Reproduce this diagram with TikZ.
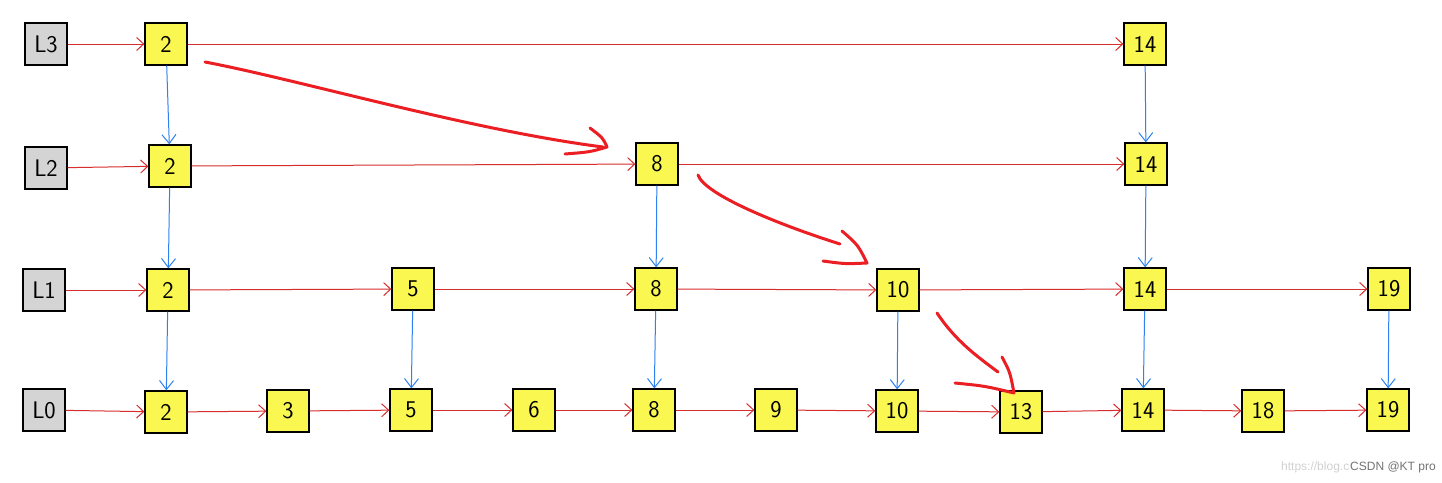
\documentclass[tikz,border=0pt]{standalone}
\usetikzlibrary{arrows.meta}
\usepackage{fontspec}
\newfontfamily\wmfont{Liberation Sans}
\definecolor{hlyellow}{RGB}{250,248,80}
\definecolor{hgray}{RGB}{212,212,212}
\definecolor{redline}{RGB}{215,45,45}
\definecolor{blueline}{RGB}{45,130,240}
\definecolor{tracered}{RGB}{235,30,35}
\begin{document}
\begin{tikzpicture}[x=1pt,y=-1pt,
  cell/.style={draw=black, line width=1.3pt, fill=hlyellow, minimum size=42pt, inner sep=0pt,
    font=\sffamily\fontsize{24}{24}\selectfont},
  head/.style={cell, fill=hgray},
  nx/.style={draw=redline, line width=1pt, -{Straight Barb[length=7pt,width=13pt]}},
  dn/.style={draw=blueline, line width=1pt, -{Straight Barb[length=9pt,width=14pt]}},
  trace/.style={draw=tracered, line width=3pt, line cap=round, line join=round},
  wm/.style={anchor=west, inner sep=0pt, font=\wmfont\fontsize{12}{12}\selectfont}]
\useasboundingbox (0,0) rectangle (1442,482);
\fill[white] (0,0) rectangle (1442,482);

% headers
\node[head] (L3) at (46,44) {L3};
\node[head] (L2) at (46,168) {L2};
\node[head] (L1) at (44,290) {L1};
\node[head] (L0) at (44,410) {L0};

% level 3
\node[cell] (a2) at (166,44) {2};
\node[cell] (a14) at (1145,44) {14};
% level 2
\node[cell] (b2) at (170,166) {2};
\node[cell] (b8) at (657,164) {8};
\node[cell] (b14) at (1146,164) {14};
% level 1
\node[cell] (c2) at (168,290) {2};
\node[cell] (c5) at (413,289) {5};
\node[cell] (c8) at (656,289) {8};
\node[cell] (c10) at (898,290) {10};
\node[cell] (c14) at (1145,289) {14};
\node[cell] (c19) at (1389,289) {19};
% level 0
\node[cell] (d2) at (166,412) {2};
\node[cell] (d3) at (288,411) {3};
\node[cell] (d5) at (411,410) {5};
\node[cell] (d6) at (534,410) {6};
\node[cell] (d8) at (654,410) {8};
\node[cell] (d9) at (776,410) {9};
\node[cell] (d10) at (897,411) {10};
\node[cell] (d13) at (1021,412) {13};
\node[cell] (d14) at (1143,410) {14};
\node[cell] (d18) at (1263,411) {18};
\node[cell] (d19) at (1388,410) {19};

% horizontal links
\draw[nx] (L3) -- (a2);
\draw[nx] (a2) -- (a14);
\draw[nx] (L2) -- (b2);
\draw[nx] (b2) -- (b8);
\draw[nx] (b8) -- (b14);
\draw[nx] (L1) -- (c2);
\draw[nx] (c2) -- (c5);
\draw[nx] (c5) -- (c8);
\draw[nx] (c8) -- (c10);
\draw[nx] (c10) -- (c14);
\draw[nx] (c14) -- (c19);
\draw[nx] (L0) -- (d2);
\draw[nx] (d2) -- (d3);
\draw[nx] (d3) -- (d5);
\draw[nx] (d5) -- (d6);
\draw[nx] (d6) -- (d8);
\draw[nx] (d8) -- (d9);
\draw[nx] (d9) -- (d10);
\draw[nx] (d10) -- (d13);
\draw[nx] (d13) -- (d14);
\draw[nx] (d14) -- (d18);
\draw[nx] (d18) -- (d19);

% vertical links
\draw[dn] (a2) -- (b2);
\draw[dn] (b2) -- (c2);
\draw[dn] (c2) -- (d2);
\draw[dn] (a14) -- (b14);
\draw[dn] (b14) -- (c14);
\draw[dn] (c14) -- (d14);
\draw[dn] (b8) -- (c8);
\draw[dn] (c8) -- (d8);
\draw[dn] (c5) -- (d5);
\draw[dn] (c10) -- (d10);
\draw[dn] (c19) -- (d19);

% search trace
\coordinate (s1a) at (205,62);
\coordinate (s1b) at (603,147);
\draw[trace] (s1a) .. controls (300,80) and (470,130) .. (s1b);
\draw[trace] (590,128) .. controls (603,138) .. (607,147) .. controls (590,152) .. (565,154);

\coordinate (s2a) at (698,175);
\coordinate (s2b) at (840,244);
\draw[trace] (s2a) .. controls (705,195) and (780,225) .. (s2b);
\draw[trace] (842,231) .. controls (858,245) .. (867,263) .. controls (845,264) .. (823,261);

\coordinate (s3a) at (937,313);
\coordinate (s3b) at (998,372);
\draw[trace] (s3a) .. controls (955,340) and (975,355) .. (s3b);
\draw[trace] (1002,357) .. controls (1010,372) .. (1014,393) .. controls (985,386) .. (955,383);

% watermark
\node[wm, text=black!18] (wm1) at (1281,467) {https://blog.c};
\node[wm, text=black!55] (wm2) at (1350,467) {CSDN @KT pro};
\end{tikzpicture}
\end{document}
